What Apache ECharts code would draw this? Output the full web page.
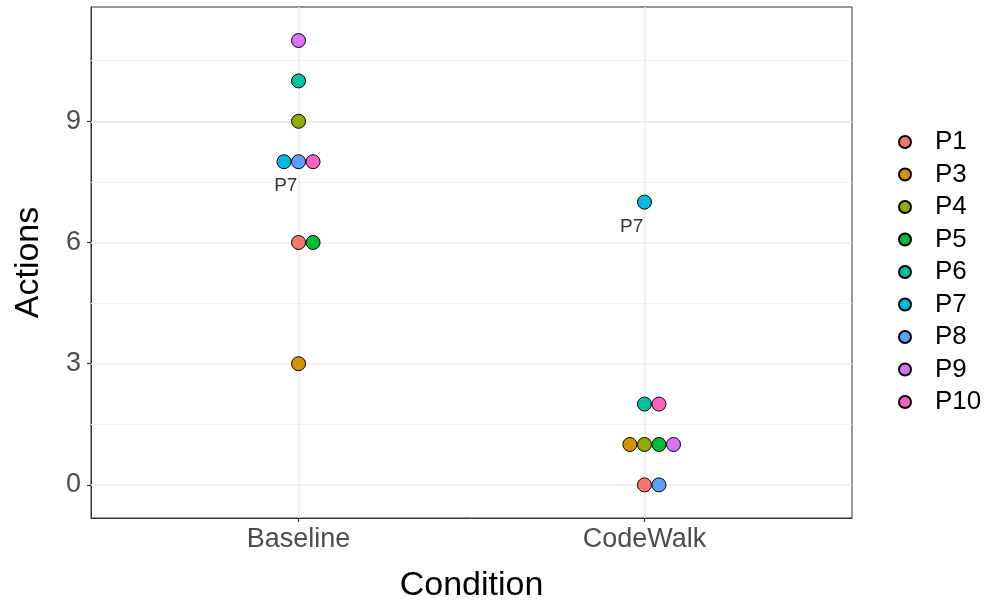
<!DOCTYPE html>
<html>
<head>
<meta charset="utf-8">
<script src="https://cdn.jsdelivr.net/npm/echarts@6/dist/echarts.min.js"></script>
<style>html,body{margin:0;padding:0;background:#fff}#c{width:987px;height:606px}</style>
</head>
<body>
<div id="c"></div>
<script>
const conditions = ['Baseline', 'CodeWalk'];
const participants = ['P1','P3','P4','P5','P6','P7','P8','P9','P10'];
const baseline = [6, 3, 9, 6, 10, 8, 8, 11, 8];
const codewalk = [0, 1, 1, 1, 2, 7, 0, 1, 2];
const colors = ['#F8766D','#D39200','#93AA00','#00BA38','#00C19F','#00B9E3','#619CFF','#DB72FB','#FF61C3'];
const yMajor = [0, 3, 6, 9];
const yMinor = [1.5, 4.5, 7.5, 10.5];
const labelled = 'P7';

const STEP = 0.042;
function offsets(vals) {
  const groups = {};
  vals.forEach((v, i) => { (groups[v] = groups[v] || []).push(i); });
  const off = new Array(vals.length).fill(0);
  Object.values(groups).forEach(g => {
    const n = g.length, start = Math.floor((n - 1) / 2);
    g.forEach((idx, k) => { off[idx] = (k - start) * STEP; });
  });
  return off;
}
const offB = offsets(baseline), offC = offsets(codewalk);

const series = participants.map((p, i) => ({
  name: p, type: 'scatter', symbol: 'circle', symbolSize: 14, z: 5,
  itemStyle: { color: colors[i], borderColor: '#000', borderWidth: 1, opacity: 1 },
  data: [[1 + offB[i], baseline[i]], [2 + offC[i], codewalk[i]]]
}));

const font = 'Liberation Sans, Arial, sans-serif';
const li = participants.indexOf(labelled);
series.push({
  name: 'lab', type: 'scatter', symbolSize: 0, z: 6, silent: true,
  label: { show: true, position: 'inside', formatter: labelled, fontSize: 19, color: '#000', fontFamily: font },
  data: [[1 - 0.037, baseline[li] - 0.6], [2 - 0.037, codewalk[li] - 0.6]]
});

const grid = (v, w, c) => ({ yAxis: v, lineStyle: { color: c, width: w, type: 'solid' }, label: { show: false }, symbol: 'none' });
series.push({
  name: 'grid', type: 'line', data: [], silent: true, z: 1,
  markLine: {
    silent: true, symbol: 'none', animation: false,
    data: [
      ...yMinor.map(v => grid(v, 1, '#f2f2f2')),
      ...yMajor.map(v => grid(v, 1.5, '#ebebeb')),
      ...[1, 2].map(v => ({ xAxis: v, lineStyle: { color: '#ebebeb', width: 1.5, type: 'solid' }, label: { show: false } }))
    ]
  }
});

const chart = echarts.init(document.getElementById('c'));
chart.setOption({
  animation: false,
  textStyle: { fontFamily: font },
  grid: { left: 91, right: 135, top: 7, bottom: 88, show: true, borderColor: '#333', borderWidth: 1, containLabel: false, outerBoundsMode: 'none' },
  xAxis: {
    type: 'value', min: 0.4, max: 2.6,
    name: 'Condition', nameLocation: 'middle', nameGap: 51,
    nameTextStyle: { fontSize: 34, color: '#000', fontFamily: font },
    axisLine: { show: true, onZero: false, lineStyle: { color: '#333', width: 1 } }, splitLine: { show: false },
    axisTick: { show: true, length: 4, customValues: [1, 2], lineStyle: { color: '#333', width: 1.2 } },
    axisLabel: { customValues: [1, 2], formatter: v => conditions[Math.round(v) - 1], fontSize: 27, color: '#4d4d4d', margin: 8, fontFamily: font }
  },
  yAxis: {
    type: 'value', min: -0.82, max: 11.83,
    name: 'Actions', nameLocation: 'middle', nameGap: 45, nameRotate: 90,
    nameTextStyle: { fontSize: 34, color: '#000', fontFamily: font },
    axisLine: { show: true, onZero: false, lineStyle: { color: '#333', width: 1 } }, splitLine: { show: false },
    axisTick: { show: true, length: 4, customValues: yMajor, lineStyle: { color: '#333', width: 1.2 } },
    axisLabel: { customValues: yMajor, fontSize: 27, color: '#4d4d4d', margin: 10, fontFamily: font }
  },
  legend: {
    orient: 'vertical', left: 893, top: 124, itemGap: 6.5, itemWidth: 12, itemHeight: 12,
    data: participants.map(p => ({ name: p, icon: 'circle' })),
    textStyle: { fontSize: 26, lineHeight: 26, color: '#000', fontFamily: font, padding: [0, 0, 0, 19] }
  },
  series
});
</script>
</body>
</html>
